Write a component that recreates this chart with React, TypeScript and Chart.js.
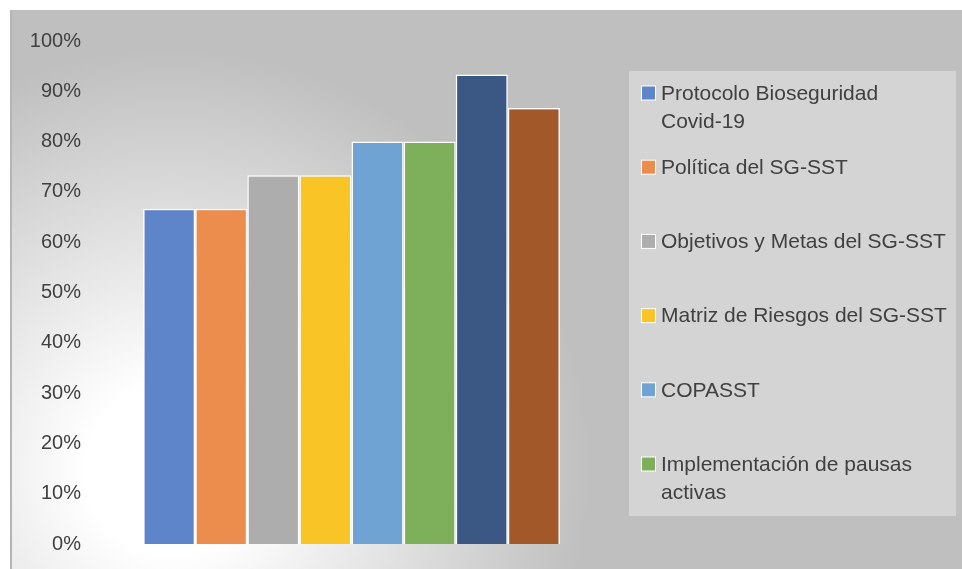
import React, { useEffect, useRef } from "react";
import { Chart, registerables } from "chart.js";

Chart.register(...registerables);

const categories = [""];
const seriesNames = [
  "Protocolo Bioseguridad Covid-19",
  "Política del SG-SST",
  "Objetivos y Metas del SG-SST",
  "Matriz de Riesgos del SG-SST",
  "COPASST",
  "Implementación de pausas activas",
  "Serie 7",
  "Serie 8",
];
const seriesValues = [0.6667, 0.6667, 0.7333, 0.7333, 0.8, 0.8, 0.9333, 0.8667];
const seriesColors = [
  "#5e84ca",
  "#ec8c4d",
  "#adadad",
  "#f9c425",
  "#6ea3d4",
  "#7eb05b",
  "#3b5784",
  "#a35829",
];
const yTicks = [0, 0.1, 0.2, 0.3, 0.4, 0.5, 0.6, 0.7, 0.8, 0.9, 1];

const FONT = '"Liberation Sans", Arial, sans-serif';
const TEXT = "#404040";

const backgroundPlugin = {
  id: "bgPlugin",
  beforeDraw(chart: any) {
    const ctx = chart.ctx;
    const w = chart.width;
    const h = chart.height;
    ctx.save();
    ctx.fillStyle = "#ffffff";
    ctx.fillRect(0, 0, w, h);
    const g = ctx.createRadialGradient(170, 470, 0, 170, 470, 420);
    g.addColorStop(0, "#ffffff");
    g.addColorStop(0.2, "#ffffff");
    g.addColorStop(1, "#bfbfbf");
    ctx.fillStyle = g;
    ctx.fillRect(10, 10, w - 10, h - 10);
    ctx.strokeStyle = "#b5b5b5";
    ctx.lineWidth = 2;
    ctx.beginPath();
    ctx.moveTo(11, 10);
    ctx.lineTo(11, h);
    ctx.stroke();
    ctx.restore();
  },
};

function wrapText(ctx: any, text: string, maxW: number): string[] {
  const words = text.split(" ");
  const lines: string[] = [];
  let cur = "";
  for (const wd of words) {
    const test = cur ? cur + " " + wd : wd;
    if (ctx.measureText(test).width > maxW && cur) {
      lines.push(cur);
      cur = wd;
    } else {
      cur = test;
    }
  }
  if (cur) lines.push(cur);
  return lines;
}

const legendPlugin = {
  id: "boxLegend",
  afterDraw(chart: any) {
    const ctx = chart.ctx;
    const bx = 629,
      by = 71,
      bw = 327,
      bh = 445;
    const slot = 74.2;
    ctx.save();
    ctx.fillStyle = "#d4d4d4";
    ctx.fillRect(bx, by, bw, bh);
    ctx.beginPath();
    ctx.rect(bx, by, bw, bh);
    ctx.clip();
    ctx.font = `21px ${FONT}`;
    ctx.textBaseline = "middle";
    ctx.textAlign = "left";
    chart.data.datasets.forEach((ds: any, i: number) => {
      const cy = by + i * slot + 22;
      ctx.fillStyle = "#ffffff";
      ctx.fillRect(641, cy - 7.5, 15, 15);
      ctx.fillStyle = ds.backgroundColor;
      ctx.fillRect(642, cy - 6.5, 13, 13);
      ctx.fillStyle = TEXT;
      const lines = wrapText(ctx, ds.label, 292);
      lines.forEach((ln, k) => ctx.fillText(ln, 661, cy + 1 + k * 28));
    });
    ctx.restore();
  },
};

export default function App() {
  const ref = useRef<HTMLCanvasElement | null>(null);
  useEffect(() => {
    if (!ref.current) return;
    const chart = new Chart(ref.current, {
      type: "bar",
      data: {
        labels: categories,
        datasets: seriesNames.map((name, i) => ({
          label: name,
          data: [seriesValues[i]],
          backgroundColor: seriesColors[i],
          borderColor: "#ffffff",
          borderWidth: 1.5,
          categoryPercentage: 0.8,
          barPercentage: 1.0,
        })),
      },
      options: {
        responsive: false,
        animation: false,
        layout: { padding: { left: 10, top: 41, right: 350, bottom: 25 } },
        plugins: { legend: { display: false }, tooltip: { enabled: false } },
        scales: {
          x: { display: false },
          y: {
            min: 0,
            max: 1,
            afterBuildTicks: (scale: any) => {
              scale.ticks = yTicks.map((v) => ({ value: v }));
            },
            afterFit: (scale: any) => {
              scale.width = 81;
            },
            grid: { display: false, drawTicks: false },
            border: { display: false },
            ticks: {
              padding: 10,
              color: TEXT,
              font: { family: FONT, size: 20 },
              callback: (v: any) => Math.round(Number(v) * 100) + "%",
            },
          },
        },
      },
      plugins: [backgroundPlugin, legendPlugin],
    });
    return () => chart.destroy();
  }, []);
  return (
    <div style={{ position: "absolute", left: 0, top: 0, width: 962, height: 569 }}>
      <canvas ref={ref} width={962} height={569} style={{ width: 962, height: 569 }} />
    </div>
  );
}
